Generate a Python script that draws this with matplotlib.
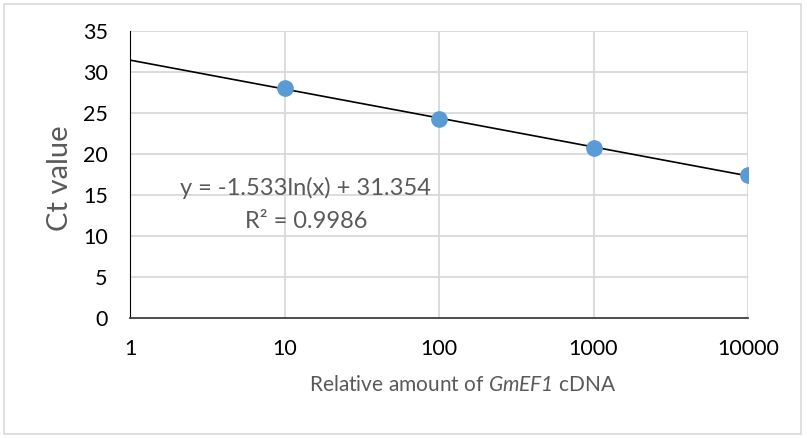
import matplotlib.pyplot as plt
import numpy as np

amount = [10, 100, 1000, 10000]
ct_value = [28.05, 24.25, 20.75, 17.45]
x_ticks = [1, 10, 100, 1000, 10000]
x_tick_labels = ["1", "10", "100", "1000", "10000"]
y_ticks = [0, 5, 10, 15, 20, 25, 30, 35]
eq_text = "y = -1.533ln(x) + 31.354"
r2_text = "R² = 0.9986"

plt.rcParams['font.family'] = ['Lato', 'DejaVu Sans']
plt.rcParams['mathtext.fontset'] = 'custom'
plt.rcParams['mathtext.rm'] = 'Lato'
plt.rcParams['mathtext.sf'] = 'Lato:italic'

fig = plt.figure(figsize=(8.07, 4.38), dpi=100)
ax = fig.add_axes([130/807, 1-318/438, (748-130)/807, (318-31)/438])

# outer chart border like the spreadsheet frame
fig.patches.append(plt.Rectangle((4/807, 4/438), 797/807, 430/438, transform=fig.transFigure,
                                 fill=False, edgecolor='#d9d9d9', linewidth=1.2))

# log trend line fitted on the points
slope, inter = np.polyfit(np.log(amount), ct_value, 1)
xs = np.logspace(0, 4, 200)
ax.plot(xs, slope*np.log(xs) + inter, color='black', linewidth=1.2, zorder=3)
ax.plot(amount, ct_value, 'o', color='#5b9bd5', markersize=11, zorder=4)

ax.set_xscale('log')
ax.set_xlim(1, 10000)
ax.set_ylim(0, 35)
ax.set_xticks(x_ticks)
ax.set_xticklabels(x_tick_labels)
ax.minorticks_off()
ax.set_yticks(y_ticks)
ax.tick_params(axis='both', length=0, labelsize=15.5, colors='black')
ax.tick_params(axis='x', pad=15)
ax.tick_params(axis='y', pad=16)

ax.grid(True, color='#d9d9d9', linewidth=1.3)
ax.set_axisbelow(True)
for s in ['top', 'right']:
    ax.spines[s].set_visible(False)
ax.spines['left'].set_color('black')
ax.spines['bottom'].set_color('#404040')
ax.spines['bottom'].set_linewidth(1.3)

ax.set_ylabel("Ct value", fontsize=21, color='#595959', va='center')
ax.yaxis.set_label_coords((60-130)/618, (318-178)/287)
ax.set_xlabel("Relative amount of $\\mathsf{GmEF1}$ cDNA", fontsize=15, color='#595959', va='center')
ax.xaxis.set_label_coords((463-130)/618, (318-385)/287)

ax.text(305/807, 1-188/438, eq_text, transform=fig.transFigure, ha='center', va='center',
        fontsize=17, color='#595959')
ax.text(306/807, 1-221/438, r2_text, transform=fig.transFigure, ha='center', va='center',
        fontsize=17, color='#595959')

fig.savefig("out.png", dpi=100)
